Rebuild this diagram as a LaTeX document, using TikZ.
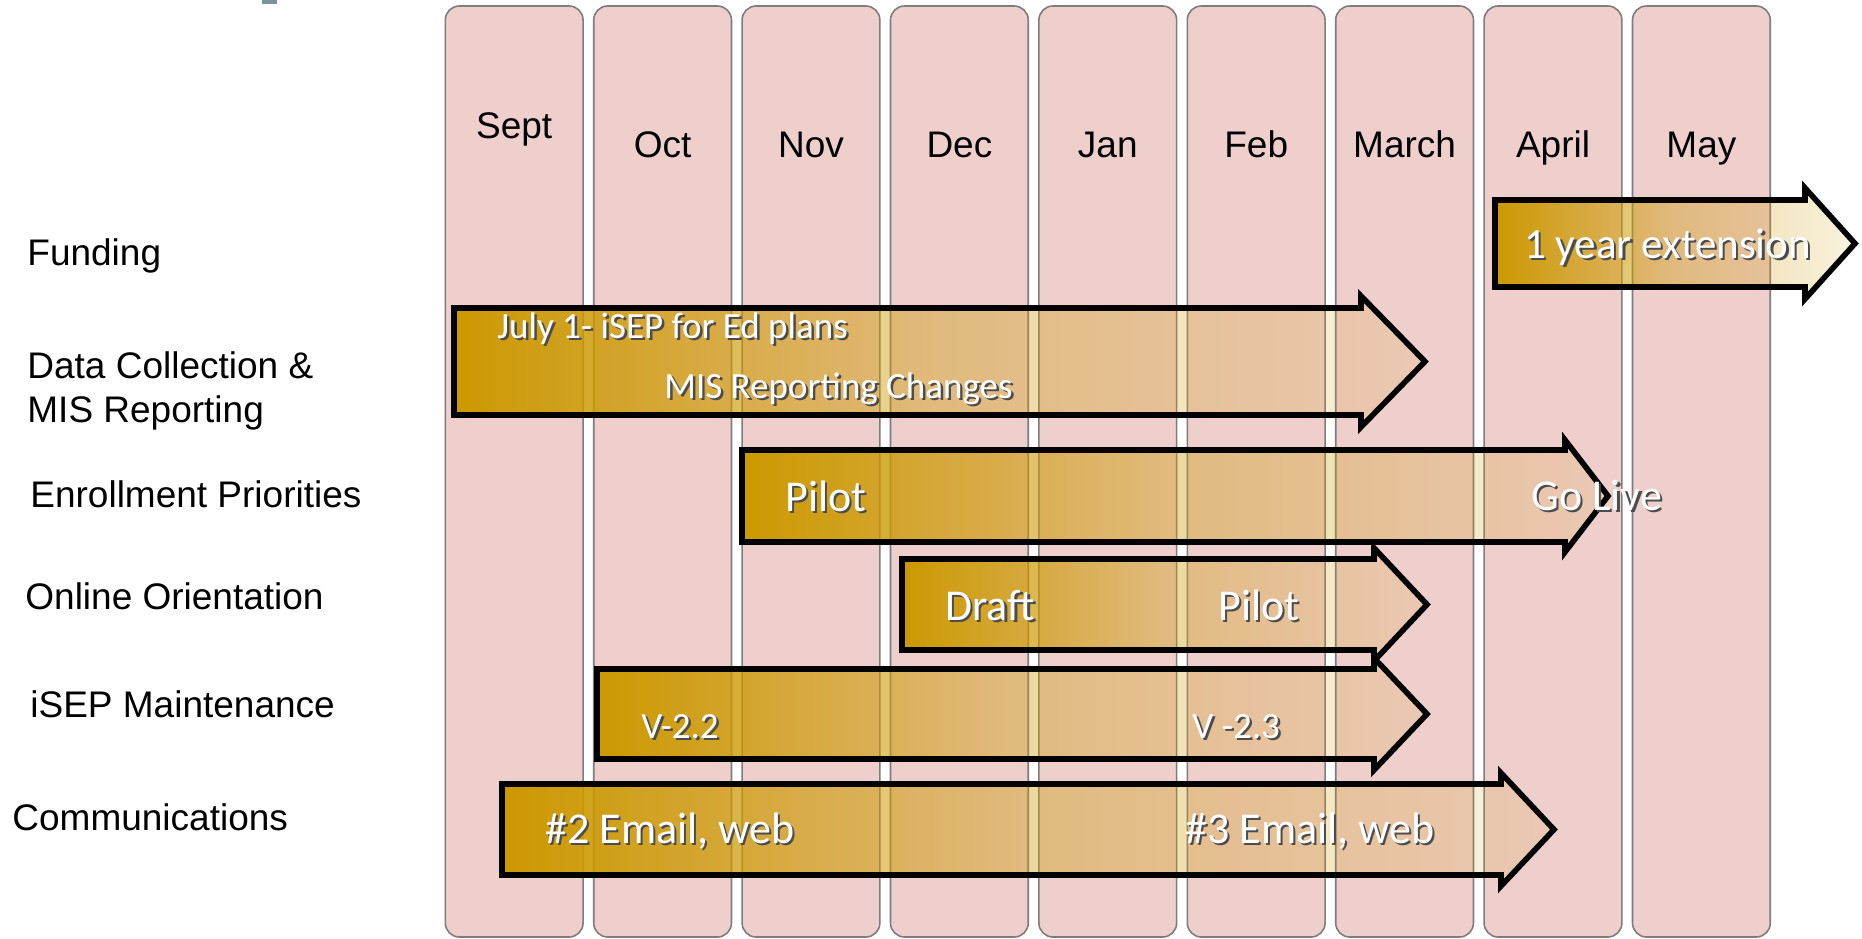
\documentclass[tikz,border=0pt]{standalone}
\usepackage{fontspec}
\setmainfont{Liberation Sans}
\newfontfamily\barfont{Carlito}
\usetikzlibrary{fadings}

\definecolor{colpink}{RGB}{239,207,204}
\definecolor{colgray}{RGB}{125,125,125}
\definecolor{bargold}{RGB}{204,153,0}
\definecolor{titlegray}{RGB}{122,150,150}

\tikzfading[name=goldfade, left color=transparent!0, right color=transparent!88, middle color=transparent!62]

\tikzset{
  monthcol/.style={draw=colgray, line width=0.8pt, fill=colpink, rounded corners=7pt},
  barline/.style={draw=black, line width=2.8pt, preaction={fill=bargold, path fading=goldfade}},
  rowlabel/.style={anchor=base west, inner sep=0pt, font=\fontsize{18.5}{22}\selectfont},
  monthlabel/.style={anchor=base, inner sep=0pt, font=\fontsize{18.5}{22}\selectfont},
  barlabel/.style={anchor=base west, inner sep=0pt, text=white, font=\barfont\fontsize{22}{26}\selectfont},
}

\newcommand{\shadowed}[1]{\makebox[0pt][l]{\kern1.2pt\raisebox{-1.2pt}{\color{black!70}#1}}#1}

% left, top, bottom, head base, head overhang, tip
\newcommand{\ganttbar}[6]{%
  \draw[barline] (#1,#2) -- (#4,#2) -- (#4,#2-#5) -- (#6,{(#2+#3)/2})
    -- (#4,#3+#5) -- (#4,#3) -- (#1,#3) -- cycle;}

\begin{document}
\begin{tikzpicture}[x=0.5pt, y=-0.5pt]
\useasboundingbox (0,0) rectangle (1862,938);

\fill[titlegray] (262,0) rectangle (277,4);

% month columns
\foreach \m/\yb [count=\i from 0] in {Sept/138, Oct/157, Nov/157, Dec/157, Jan/157, Feb/157, March/157, April/157, May/157} {
  \draw[monthcol] ({445.3+148.4*\i},6) rectangle +(137.75,931);
  \node[monthlabel] (m\i) at ({514.2+148.4*\i},\yb) {\m};
}

% rows
\node[rowlabel] (funding) at (27,265) {Funding};
\node[rowlabel] (datacoll) at (27,378) {Data Collection \&};
\node[rowlabel] (misrep) at (27,422) {MIS Reporting};
\node[rowlabel] (enroll) at (30,507) {Enrollment Priorities};
\node[rowlabel] (online) at (25,609) {Online Orientation};
\node[rowlabel] (isep) at (30,717) {iSEP Maintenance};
\node[rowlabel] (comms) at (12,830) {Communications};

% bars
\ganttbar{1495}{200}{287}{1805}{12}{1855}
\ganttbar{454}{308}{415}{1361}{12}{1425}
\ganttbar{742}{450}{542}{1565}{10}{1608}
\ganttbar{902}{559}{650}{1374}{11}{1427}
\ganttbar{597}{669}{759}{1374}{11}{1427}
\ganttbar{502}{784}{875}{1501}{11}{1554}

\node[barlabel, font=\barfont\fontsize{21.5}{25}\selectfont] (ext) at (1524,258) {\shadowed{1 year extension}};
\node[barlabel, font=\barfont\fontsize{18.5}{22}\selectfont] (july) at (497,338) {\shadowed{July 1- iSEP for Ed plans}};
\node[barlabel, font=\barfont\fontsize{18.5}{22}\selectfont] (mis) at (664,398) {\shadowed{MIS Reporting Changes}};
\node[barlabel] (pilotA) at (785,511) {\shadowed{Pilot}};
\node[barlabel] (golive) at (1531,510) {\shadowed{Go Live}};
\node[barlabel] (draft) at (945,620) {\shadowed{Draft}};
\node[barlabel] (pilotB) at (1218,620) {\shadowed{Pilot}};
\node[barlabel, font=\barfont\fontsize{18.5}{22}\selectfont] (vA) at (641,738) {\shadowed{V-2.2}};
\node[barlabel, font=\barfont\fontsize{18.5}{22}\selectfont] (vB) at (1192,738) {\shadowed{V -2.3}};
\node[barlabel] (mailA) at (545,843) {\shadowed{\#2 Email, web}};
\node[barlabel] (mailB) at (1185,843) {\shadowed{\#3 Email, web}};
\end{tikzpicture}
\end{document}
